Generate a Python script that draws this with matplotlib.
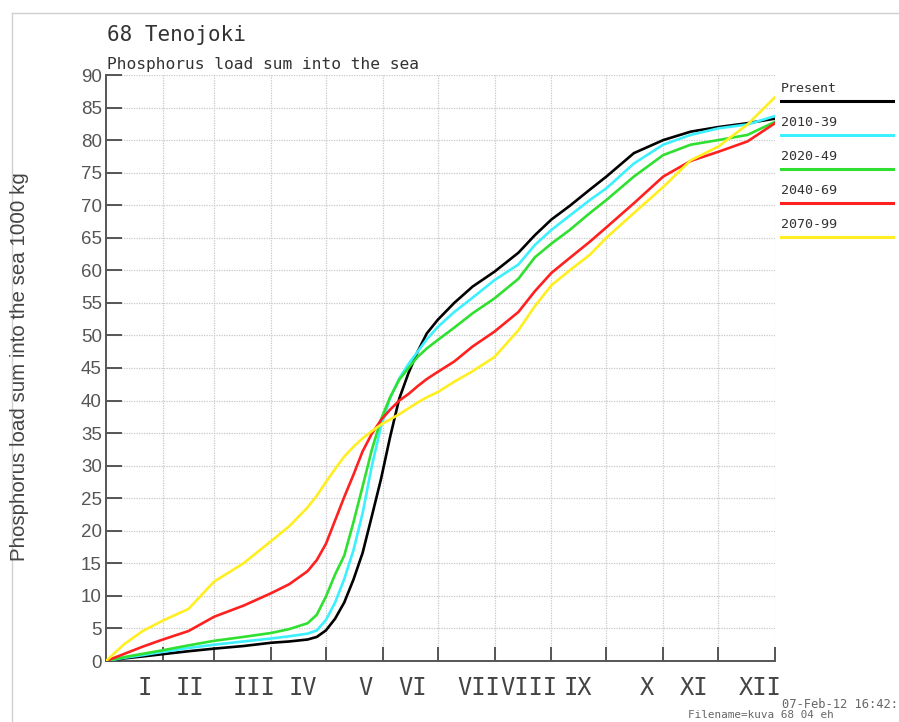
import matplotlib
matplotlib.use('Agg')
from matplotlib import pyplot as plt
from matplotlib.lines import Line2D

# day of year where each value was read
days = [0, 10, 20, 31, 45, 59, 75, 90, 100, 110, 115, 120, 125, 130, 135, 140,
        145, 150, 155, 160, 165, 170, 175, 181, 190, 200, 212, 225, 234, 243,
        253, 264, 273, 288, 304, 319, 334, 350, 365]

present = [0, 0.4, 0.7, 1.05, 1.5, 1.9, 2.3, 2.8, 3.0, 3.3, 3.7, 4.7, 6.5, 9.0,
           12.5, 16.6, 22.2, 27.9, 34.4, 40.3, 44.2, 47.5, 50.3, 52.4, 55.0, 57.5,
           59.8, 62.7, 65.4, 67.8, 69.9, 72.4, 74.4, 78.0, 80.0, 81.3, 82.0, 82.6, 83.3]
p2010 = [0, 0.5, 0.9, 1.4, 2.0, 2.5, 3.0, 3.45, 3.8, 4.2, 4.7, 6.3, 9.0, 12.6,
         17.0, 22.7, 29.9, 36.0, 40.4, 43.4, 45.6, 47.5, 49.4, 51.3, 53.6, 55.8,
         58.5, 60.9, 63.9, 66.2, 68.4, 70.8, 72.6, 76.4, 79.3, 80.8, 81.8, 82.4, 83.7]
p2020 = [0, 0.6, 1.1, 1.65, 2.4, 3.1, 3.7, 4.3, 4.9, 5.8, 7.1, 9.9, 13.3, 16.2,
         21.3, 26.8, 32.4, 37.1, 40.5, 43.2, 45.0, 46.7, 48.0, 49.3, 51.2, 53.4,
         55.7, 58.7, 62.0, 64.1, 66.2, 68.8, 70.8, 74.4, 77.7, 79.3, 80.0, 80.8, 82.8]
p2040 = [0, 1.1, 2.2, 3.3, 4.6, 6.8, 8.5, 10.4, 11.8, 13.8, 15.5, 18.0, 21.6, 25.2,
         28.6, 32.2, 34.9, 37.0, 38.6, 40.0, 41.0, 42.2, 43.3, 44.4, 46.0, 48.3,
         50.6, 53.6, 56.8, 59.6, 61.9, 64.4, 66.6, 70.3, 74.4, 76.8, 78.2, 79.8, 82.6]
p2070 = [0, 2.6, 4.6, 6.2, 8.0, 12.2, 15.0, 18.4, 20.7, 23.6, 25.4, 27.5, 29.5, 31.4,
         32.9, 34.2, 35.3, 36.3, 37.1, 37.9, 38.8, 39.7, 40.5, 41.3, 42.9, 44.5,
         46.7, 50.8, 54.5, 57.7, 60.0, 62.4, 65.0, 68.8, 72.8, 76.9, 79.0, 82.4, 86.6]

series_names = ['Present', '2010-39', '2020-49', '2040-69', '2070-99']
series_values = [present, p2010, p2020, p2040, p2070]
colors = ['#000000', '#3cf0ff', '#30e030', '#ff2020', '#ffef20']

month_ends = [31, 59, 90, 120, 151, 181, 212, 243, 273, 304, 334, 365]
months = ['I', 'II', 'III', 'IV', 'V', 'VI', 'VII', 'VIII', 'IX', 'X', 'XI', 'XII']
label_days = [21.3, 45.8, 80.7, 107.2, 141.3, 167.5, 203.2, 230.5, 257.2, 295, 320.8, 356.8]

W, H = 899, 722
fig = plt.figure(figsize=(W / 100, H / 100), dpi=100)
ax = fig.add_axes([106 / W, 1 - 661 / H, (775 - 106) / W, (661 - 75) / H])

for vals, c in zip(series_values, colors):
    ax.plot(days, vals, color=c, lw=1.9, solid_joinstyle='round', zorder=3)

ax.set_xlim(0, 365)
ax.set_ylim(0, 90)
ax.set_yticks(range(0, 91, 5))
ax.set_xticks(month_ends)
ax.set_xticklabels([''] * len(month_ends))
ax.set_xticks(label_days, minor=True)
ax.set_xticklabels(months, minor=True, family='DejaVu Sans Mono', fontsize=17, color='#444444')

ax.grid(True, which='major', color='#c8c8c8', lw=0.9, ls=(0, (1, 1)), zorder=0)
for s in ['top', 'right']:
    ax.spines[s].set_visible(False)
for s in ['left', 'bottom']:
    ax.spines[s].set_color('#555555')
    ax.spines[s].set_linewidth(1.4)

ax.tick_params(axis='y', direction='in', length=11.5, width=1.4, color='#555555',
               labelsize=13.5, labelcolor='#555555', pad=3)
ax.tick_params(axis='x', which='major', direction='in', length=10, width=1.4, color='#555555')
ax.tick_params(axis='x', which='minor', length=0, pad=11)
for lab in ax.get_yticklabels():
    lab.set_family('Liberation Sans')

fig.text(20 / W, 1 - 367 / H, 'Phosphorus load sum into the sea 1000 kg', rotation=90,
         ha='center', va='center', family='Liberation Sans', fontsize=14.8, color='#444444')
fig.text(107 / W, 1 - 35 / H, '68 Tenojoki', family='DejaVu Sans Mono', fontsize=15,
         ha='left', va='center', color='#333333')
fig.text(107 / W, 1 - 64 / H, 'Phosphorus load sum into the sea', family='DejaVu Sans Mono',
         fontsize=11.7, ha='left', va='center', color='#333333')

# legend drawn to the right of the plot
for i, (name, c) in enumerate(zip(series_names, colors)):
    ty = 89 + 34 * i
    ly = 101 + 34 * i
    fig.text(781 / W, 1 - ty / H, name, family='DejaVu Sans Mono', fontsize=9.6,
             ha='left', va='center', color='#333333')
    fig.add_artist(Line2D([781 / W, 893 / W], [1 - ly / H, 1 - ly / H], color=c, lw=2.2))

fig.text(782 / W, 1 - 704 / H, '07-Feb-12 16:42:', family='DejaVu Sans Mono', fontsize=8.7,
         ha='left', va='center', color='#666666')
fig.text(688 / W, 1 - 715 / H, 'Filename=kuva 68 04 eh', family='DejaVu Sans Mono',
         fontsize=7.9, ha='left', va='center', color='#666666')

# light frame around the sheet
fig.add_artist(Line2D([12 / W, 12 / W], [0, 1 - 13 / H], color='#d0d0d0', lw=1))
fig.add_artist(Line2D([12 / W, 1], [1 - 13 / H, 1 - 13 / H], color='#d0d0d0', lw=1))

fig.savefig('out.png', dpi=100)
